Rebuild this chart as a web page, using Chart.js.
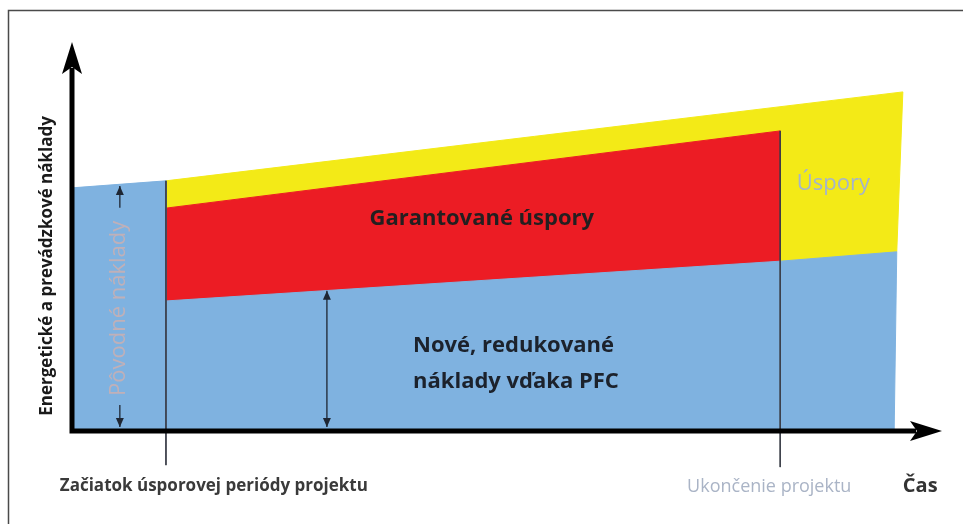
<!DOCTYPE html>
<html>
<head>
<meta charset="utf-8">
<script src="https://cdn.jsdelivr.net/npm/chart.js@4/dist/chart.umd.min.js"></script>
<style>
  html, body { margin: 0; padding: 0; background: #fff; }
  #wrap { width: 963px; height: 524px; position: relative; }
</style>
</head>
<body>
<div id="wrap"><canvas id="chart"></canvas></div>
<script>
/* Schematic: x = time along the project, y = energy & operating costs (relative units) */

// blue: original costs before the saving period, then new reduced costs
const blueTime = [0, 0, 10.8, 10.8, 81.4, 94.8, 94.5];
const blueCost = [0, 62.6, 64.4, 33.6, 43.8, 46.2, 0];

// red: guaranteed savings during the project
const redTime = [10.8, 81.4, 81.4, 10.8];
const redCost = [57.4, 77.2, 43.8, 33.6];

// yellow: total savings (what the old cost would have been)
const yellowTime = [10.8, 95.5, 94.8, 81.4, 10.8];
const yellowCost = [64.4, 87.2, 46.2, 43.8, 33.6];

// project milestones: start of saving period, end of project
const startTime = 10.8, endTime = 81.4;
const startLineCost = [64.4, -8.5];
const endLineCost = [77.2, -9];

// dimension arrows (null = gap for the label)
const origArrowTime = 5.5;
const origArrowCost = [63.1, 57.5, null, 6.9, 1.3];
const newArrowTime = 29.3;
const newArrowCost = [36.2, 1.3];

const BLUE = '#7fb2e0', RED = '#ec1c24', YELLOW = '#f3ea17', INK = '#1e2633';

function pts(xs, ys) { return ys.map((v, i) => ({ x: Array.isArray(xs) ? xs[i] : xs, y: v })); }

function area(label, xs, ys, color) {
  return { label, data: pts(xs, ys), fill: 'shape', backgroundColor: color, borderColor: color,
    borderWidth: 1, pointRadius: 0, order: 2 };
}
function rule(label, xs, ys, color, width, extra) {
  return Object.assign({ label, data: pts(xs, ys), fill: false, borderColor: color, borderWidth: width,
    pointRadius: 0, clip: false, order: 1 }, extra || {});
}

/* ── annotations ── */
const texts = [
  { t: 'Garantované úspory', x: 47.1, y: 53.1, font: 'bold 22px "Open Sans"', c: '#231f20', a: 'center' },
  { t: 'Nové, redukované', x: 39.2, y: 20.5, font: 'bold 22px "Open Sans"', c: '#1c222c', a: 'left' },
  { t: 'náklady vďaka PFC', x: 39.2, y: 11.3, font: 'bold 22px "Open Sans"', c: '#1c222c', a: 'left' },
  { t: 'Úspory', x: 83.3, y: 62.1, font: '22px "Open Sans"', c: '#a4b4cc', a: 'left' },
  { t: 'Ukončenie projektu', x: 70.7, y: -15.4, font: '18px "Open Sans"', c: '#aab4c6', a: 'left' },
  { t: 'Čas', x: 95.5, y: -15.4, font: 'bold 20px "Open Sans"', c: '#333', a: 'left' },
  { t: 'Začiatok úsporovej periódy projektu', x: -1.4, y: -15.1, font: 'bold 17px "Open Sans"', c: '#3a3a3a', a: 'left' },
  { t: 'Pôvodné náklady', x: 5.4, y: 31.7, font: '22px "Open Sans"', c: '#c0b0b8', a: 'center', rot: true },
  { t: 'Energetické a prevádzkové náklady', x: -2.8, y: 42.6, font: 'bold 17px "Open Sans"', c: '#1a1a1a', a: 'center', rot: true }
];

function arrowHead(ctx, x, y, dir, color) {
  ctx.beginPath();
  ctx.moveTo(x, y);
  ctx.lineTo(x - 4, y - dir * 9);
  ctx.lineTo(x + 4, y - dir * 9);
  ctx.closePath();
  ctx.fillStyle = color;
  ctx.fill();
}

const schema = {
  id: 'schema',
  beforeDraw(chart) {
    const ctx = chart.ctx;
    ctx.save();
    ctx.strokeStyle = '#4a4a4a'; ctx.lineWidth = 1.5;
    ctx.beginPath(); ctx.moveTo(8.5, chart.height + 5); ctx.lineTo(8.5, 10.5); ctx.lineTo(chart.width + 5, 10.5); ctx.stroke();
    ctx.restore();
  },
  afterDatasetsDraw(chart) {
    const { ctx, scales: { x, y } } = chart;
    ctx.save();
    chart.data.datasets.forEach((ds, i) => {
      if (!ds.arrowHeads) return;
      const p = chart.getDatasetMeta(i).data;
      arrowHead(ctx, p[0].x, p[0].y, -1, ds.borderColor);
      arrowHead(ctx, p[p.length - 1].x, p[p.length - 1].y, 1, ds.borderColor);
    });

    // axes with arrows
    const x0 = x.getPixelForValue(0), y0 = y.getPixelForValue(0) - 1;
    const xTip = x.getPixelForValue(x.max), yTip = y.getPixelForValue(y.max);
    ctx.strokeStyle = '#000'; ctx.fillStyle = '#000'; ctx.lineWidth = 5; ctx.lineCap = 'butt';
    ctx.beginPath();
    ctx.moveTo(x0, y0 + 2.5); ctx.lineTo(x0, yTip + 26);
    ctx.moveTo(x0 - 2.5, y0); ctx.lineTo(xTip - 26, y0);
    ctx.stroke();
    ctx.beginPath();
    ctx.moveTo(x0, yTip); ctx.lineTo(x0 - 10, yTip + 32); ctx.lineTo(x0, yTip + 25); ctx.lineTo(x0 + 10, yTip + 32); ctx.closePath();
    ctx.moveTo(xTip, y0); ctx.lineTo(xTip - 32, y0 - 10); ctx.lineTo(xTip - 25, y0); ctx.lineTo(xTip - 32, y0 + 10); ctx.closePath();
    ctx.fill();

    texts.forEach(l => {
      const px = x.getPixelForValue(l.x), py = y.getPixelForValue(l.y);
      ctx.font = l.font; ctx.fillStyle = l.c; ctx.textAlign = l.a;
      if (l.rot) {
        ctx.save(); ctx.translate(px, py); ctx.rotate(-Math.PI / 2);
        ctx.textBaseline = 'middle'; ctx.fillText(l.t, 0, 0); ctx.restore();
      } else {
        ctx.textBaseline = 'alphabetic'; ctx.fillText(l.t, px, py);
      }
    });
    ctx.restore();
  }
};

new Chart(document.getElementById('chart'), {
  type: 'line',
  data: {
    datasets: [
      area('Nové náklady', blueTime, blueCost, BLUE),
      area('Garantované úspory', redTime, redCost, RED),
      area('Úspory', yellowTime, yellowCost, YELLOW),
      rule('Začiatok', startTime, startLineCost, '#3a3d48', 1),
      rule('Ukončenie', endTime, endLineCost, '#3a3d48', 1),
      rule('Pôvodné náklady', origArrowTime, origArrowCost, INK, 1.3, { arrowHeads: true, spanGaps: false }),
      rule('Nové náklady', newArrowTime, newArrowCost, INK, 1.3, { arrowHeads: true })
    ]
  },
  options: {
    responsive: true, maintainAspectRatio: false, animation: false,
    layout: { padding: { left: 72, right: 21, top: 42, bottom: 92 } },
    elements: { line: { tension: 0 } },
    plugins: { legend: { display: false }, tooltip: { enabled: false } },
    scales: {
      x: { type: 'linear', min: 0, max: 100, display: false },
      y: { type: 'linear', min: 0, max: 100, display: false }
    }
  },
  plugins: [schema]
});
</script>
</body>
</html>
